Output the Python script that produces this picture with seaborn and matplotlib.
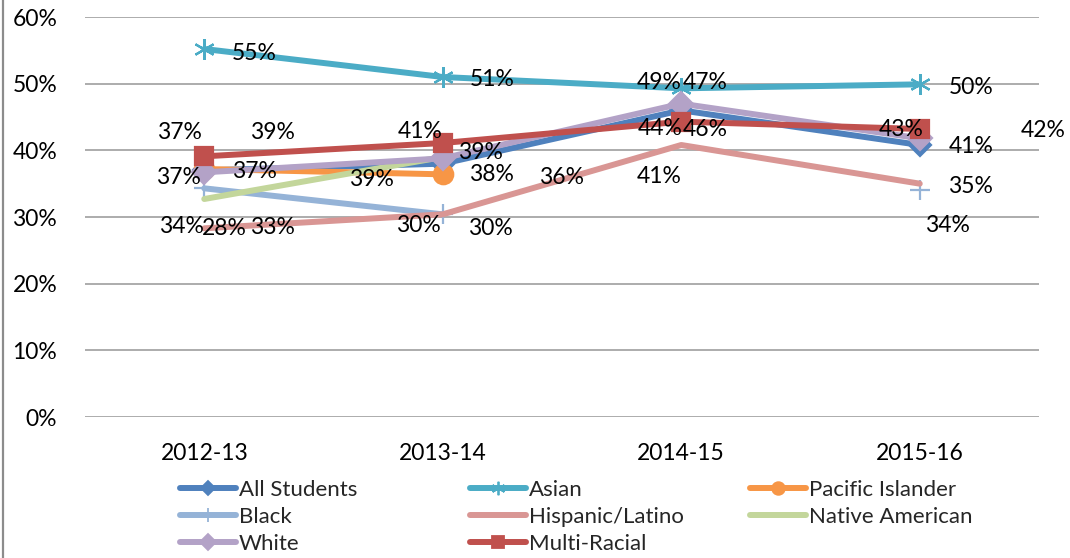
import numpy as np
import pandas as pd
import seaborn as sns
import matplotlib.pyplot as plt
from matplotlib.lines import Line2D
from matplotlib.ticker import PercentFormatter

# school years on the category axis
years = ["2012-13", "2013-14", "2014-15", "2015-16"]

# rates per group (NaN = no value that year)
all_students = [0.370, 0.380, 0.460, 0.408]
asian = [0.552, 0.510, 0.493, 0.499]
pacific_islander = [0.372, 0.364, np.nan, np.nan]
black = [0.343, 0.304, np.nan, 0.340]
hispanic_latino = [0.283, 0.304, 0.408, 0.350]
native_american = [0.327, 0.390, np.nan, np.nan]
white = [0.367, 0.388, 0.470, 0.418]
multi_racial = [0.391, 0.411, 0.443, 0.432]

# name, values, colour, marker, marker size
series = [
    ("All Students", all_students, "#4F81BD", "D", 11),
    ("Asian", asian, "#4BACC6", (6, 2, 0), 15),
    ("Pacific Islander", pacific_islander, "#F79646", "o", 14),
    ("Black", black, "#95B3D7", "+", 15),
    ("Hispanic/Latino", hispanic_latino, "#D99694", "", 0),
    ("Native American", native_american, "#C3D69B", "", 0),
    ("White", white, "#B3A2C7", "D", 12),
    ("Multi-Racial", multi_racial, "#C0504D", "s", 13),
]

# where each data label sits, in pixels from its point (right, up)
label_offsets = {
    "All Students": [(-25, 38), (49, -11), (24, -19), (51, -1)],
    "Asian": [(50, -4), (49, -3), (-22, 6), (51, -3)],
    "Pacific Islander": [(50, -3), (119, -3), None, None],
    "Black": [(-23, -38), (-24, -11), None, (28, -35)],
    "Hispanic/Latino": [(20, 0), (48, -14), (-22, -31), (51, -3)],
    "Native American": [(68, -29), (-71, -22), None, None],
    "White": [(-26, -5), (38, 6), (24, 21), (123, 8)],
    "Multi-Racial": [(68, 24), (-23, 12), (-21, -7), (-19, -1)],
}

sns.set_style("white")
plt.rcParams["font.family"] = ["Lato", "DejaVu Sans"]

fig = plt.figure(figsize=(10.7, 5.58), dpi=100)
ax = fig.add_axes([85 / 1070, 1 - 417 / 558, 954 / 1070, 400 / 558])

x = np.arange(len(years))
for name, vals, color, marker, ms in series:
    df = pd.DataFrame({"x": x, "y": vals})
    # break the line where a year is missing
    df["seg"] = df["y"].isna().cumsum()
    sns.lineplot(data=df, x="x", y="y", units="seg", estimator=None, ax=ax,
                 color=color, linewidth=4.3, marker=marker, markersize=ms,
                 markeredgecolor=color, markerfacecolor=color,
                 markeredgewidth=1.6, legend=False)
    for xi, v, off in zip(x, vals, label_offsets[name]):
        if np.isnan(v):
            continue
        ax.annotate(f"{v:.0%}", (xi, v), xytext=off, textcoords="offset pixels",
                    ha="center", va="center", fontsize=16.5, color="black",
                    zorder=10)

ax.set_xlim(-0.5, 3.5)
ax.set_ylim(0, 0.6)
ax.set_xticks(x)
ax.set_xticklabels(years)
ax.set_yticks(np.arange(0, 0.61, 0.1))
ax.yaxis.set_major_formatter(PercentFormatter(1, decimals=0))
ax.set_xlabel("")
ax.set_ylabel("")
ax.grid(axis="y", color="#A6A6A6", linewidth=1.3)
ax.set_axisbelow(True)
ax.tick_params(axis="both", length=0, labelsize=16.5, colors="black")
ax.tick_params(axis="y", pad=20)
ax.tick_params(axis="x", pad=19)
for sp in ax.spines.values():
    sp.set_visible(False)

# legend in three fixed columns, filled row by row
col_left = [180, 470, 750]
for c, left in enumerate(col_left):
    handles = [Line2D([], [], color=color, linewidth=4.3, marker=marker,
                      markersize=ms * 0.65, markeredgecolor=color,
                      markerfacecolor=color, markeredgewidth=1.3)
               for name, vals, color, marker, ms in series[c::3]]
    labels = [s[0] for s in series[c::3]]
    fig.legend(handles, labels, loc="upper left",
               bbox_to_anchor=(left / 1070, 1 - 480 / 558),
               frameon=False, borderpad=0, borderaxespad=0,
               handlelength=2.5, handletextpad=0.14, labelspacing=0.32,
               fontsize=16)

# chart area border on the left edge
fig.add_artist(Line2D([3 / 1070, 3 / 1070], [0, 1], color="#8C8C8C", linewidth=1.6))

plt.savefig("out.png", dpi=100)
